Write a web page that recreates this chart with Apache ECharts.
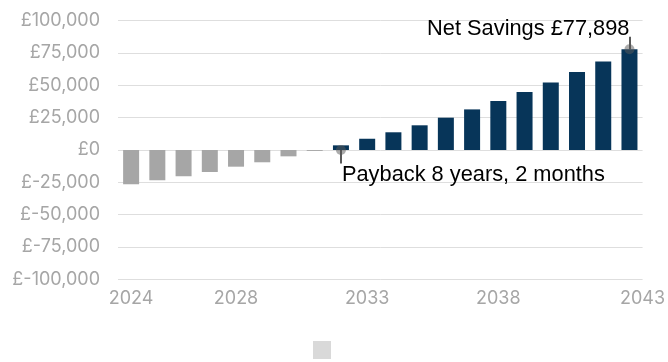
<!DOCTYPE html>
<html>
<head>
<meta charset="utf-8">
<script src="https://cdn.jsdelivr.net/npm/echarts@6/dist/echarts.min.js"></script>
<style>
html,body{margin:0;padding:0;background:#fff;}
#chart{width:668px;height:362px;}
</style>
</head>
<body>
<div id="chart"></div>
<script>
const years = ['2024','2025','2026','2027','2028','2029','2030','2031','2032','2033','2034','2035','2036','2037','2038','2039','2040','2041','2042','2043'];
const netSavings = [-26500,-23400,-20300,-17000,-12900,-9500,-4900,-700,3600,8700,13700,19100,25000,31400,37900,44800,52300,60300,68500,77898];
const xTickLabels = ['2024','2028','2033','2038','2043'];
const yTicks = [-100000,-75000,-50000,-25000,0,25000,50000,75000,100000];
const paybackYear = '2032';
const paybackText = 'Payback 8 years, 2 months';
const finalYear = '2043';
const finalValue = 77898;
const finalText = 'Net Savings £77,898';

const GREY = '#a6a6a6';
const NAVY = '#073559';
const AXIS_TXT = '#a6a6a6';

const chart = echarts.init(document.getElementById('chart'), null, {renderer:'canvas'});

function fmtMoney(v){
  const s = Math.abs(v).toLocaleString('en-GB');
  return v < 0 ? '£-' + s : '£' + s;
}

const catData = years.map(y => {
  if (y === xTickLabels[xTickLabels.length-1]) {
    return {value: y, textStyle: {padding: [0,0,0,26]}};
  }
  return y;
});

chart.setOption({
  animation: false,
  grid: {left: 118, right: 25, top: 20.7, bottom: 82.7, containLabel: false},
  legend: {
    show: true,
    left: 308, top: 336,
    itemWidth: 18, itemHeight: 18,
    icon: 'rect',
    data: [{name: ' ', itemStyle: {color: '#d9d9d9'}}],
    textStyle: {fontSize: 1, color: '#fff'},
    selectedMode: false
  },
  xAxis: {
    type: 'category',
    data: catData,
    axisLine: {show: false, onZero: false},
    axisTick: {show: false},
    axisLabel: {
      color: AXIS_TXT, fontFamily: 'Inter', fontSize: 18, margin: 10,
      interval: (i, v) => xTickLabels.includes(v)
    },
    splitLine: {show: false}
  },
  yAxis: {
    type: 'value',
    min: yTicks[0], max: yTicks[yTicks.length-1], interval: 25000,
    axisLine: {show: false},
    axisTick: {show: false},
    axisLabel: {
      color: AXIS_TXT, fontFamily: 'Inter', fontSize: 18, margin: 18,
      formatter: fmtMoney
    },
    splitLine: {lineStyle: {color: '#dedede', width: 1}}
  },
  series: [{
    name: ' ',
    type: 'bar',
    data: netSavings,
    barCategoryGap: '39%',
    itemStyle: {color: p => p.value < 0 ? GREY : NAVY},
    markLine: {
      silent: true,
      symbol: ['none','none'],
      label: {show: false},
      lineStyle: {color: '#222', width: 1.5, type: 'solid'},
      data: [
        [{coord: [finalYear, finalValue]}, {coord: [finalYear, finalValue + 9700]}],
        [{coord: [paybackYear, 0]}, {coord: [paybackYear, -10400]}]
      ]
    },
    markPoint: {
      silent: true,
      data: [
        {
          coord: [finalYear, finalValue],
          symbol: 'circle', symbolSize: 10,
          itemStyle: {color: 'rgba(90,90,90,0.5)'},
          label: {
            show: true, formatter: finalText, position: 'top', distance: 4,
            align: 'right', offset: [0,0],
            color: '#000', fontFamily: 'Liberation Sans', fontSize: 21.8
          }
        },
        {
          coord: [paybackYear, 0],
          symbol: 'circle', symbolSize: 10,
          itemStyle: {color: 'rgba(90,90,90,0.5)'},
          label: {
            show: true, formatter: paybackText, position: 'bottom', distance: 9,
            align: 'left', offset: [1,0],
            color: '#000', fontFamily: 'Liberation Sans', fontSize: 21.8
          }
        }
      ]
    }
  }]
});
</script>
</body>
</html>
